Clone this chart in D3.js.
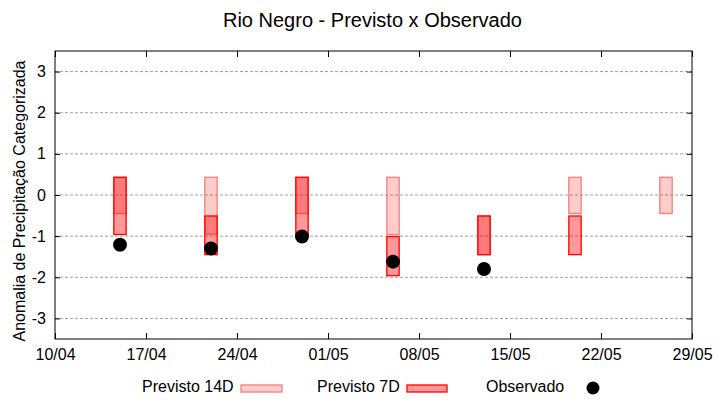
<!DOCTYPE html>
<html>
<head>
<meta charset="utf-8">
<script src="https://cdn.jsdelivr.net/npm/d3@7"></script>
<style>
  body { margin: 0; background: #fff; }
  text { font-family: "Liberation Sans", Arial, sans-serif; }
</style>
</head>
<body>
<div id="chart"></div>
<script>
// data
const tickLabels = ["10/04", "17/04", "24/04", "01/05", "08/05", "15/05", "22/05", "29/05"];
const yTicks = [-3, -2, -1, 0, 1, 2, 3];

const dates = ["15/04", "22/04", "29/04", "06/05", "13/05", "20/05", "27/05"];
const prev14Lo = [-0.45, -0.95, -0.45, -0.96, -1.45, -0.45, -0.45];
const prev14Hi = [0.43, 0.43, 0.43, 0.43, -0.51, 0.43, 0.43];
const prev7Lo = [-0.96, -1.45, -0.96, -1.96, -1.45, -1.45, null];
const prev7Hi = [0.43, -0.51, 0.43, -1.01, -0.51, -0.51, null];
const observado = [-1.21, -1.3, -1.01, -1.62, -1.8, null, null];

const parseDate = s => d3.timeParse("%d/%m/%Y")(s + "/2023");

const width = 720, height = 400;
const margin = {top: 51, right: 28, bottom: 61, left: 55};

const svg = d3.select("#chart").append("svg")
    .attr("width", width)
    .attr("height", height);

const x = d3.scaleTime()
    .domain([parseDate("10/04"), parseDate("29/05")])
    .range([margin.left, width - margin.right]);

const y = d3.scaleLinear()
    .domain([-3.5, 3.5])
    .range([height - margin.bottom, margin.top]);

// grid
svg.append("g")
    .selectAll("line")
    .data(yTicks)
    .enter()
    .append("line")
    .attr("x1", margin.left)
    .attr("x2", width - margin.right)
    .attr("y1", d => y(d))
    .attr("y2", d => y(d))
    .attr("stroke", "#a0a0a0")
    .attr("stroke-width", 1)
    .attr("stroke-dasharray", "3,2");

// bars
const dayMs = 24 * 3600 * 1000;
const boxW = x(new Date(parseDate("10/04").getTime() + 0.95 * dayMs)) - x(parseDate("10/04"));

const rows14 = dates.map((d, i) => ({date: parseDate(d), lo: prev14Lo[i], hi: prev14Hi[i]}));
const rows7 = dates.map((d, i) => ({date: parseDate(d), lo: prev7Lo[i], hi: prev7Hi[i]}))
    .filter(d => d.lo != null);
const rowsObs = dates.map((d, i) => ({date: parseDate(d), v: observado[i]}))
    .filter(d => d.v != null);

svg.append("g")
    .selectAll("rect")
    .data(rows14)
    .enter()
    .append("rect")
    .attr("x", d => x(d.date) - boxW / 2)
    .attr("width", boxW)
    .attr("y", d => y(d.hi))
    .attr("height", d => y(d.lo) - y(d.hi))
    .attr("fill", "rgba(255,0,0,0.2)")
    .attr("stroke", "#f08078")
    .attr("stroke-width", 1.3);

svg.append("g")
    .selectAll("rect")
    .data(rows7)
    .enter()
    .append("rect")
    .attr("x", d => x(d.date) - boxW / 2)
    .attr("width", boxW)
    .attr("y", d => y(d.hi))
    .attr("height", d => y(d.lo) - y(d.hi))
    .attr("fill", "rgba(255,0,0,0.4)")
    .attr("stroke", "#ff0000")
    .attr("stroke-width", 1.3);

svg.append("g")
    .selectAll("circle")
    .data(rowsObs)
    .enter()
    .append("circle")
    .attr("cx", d => x(d.date))
    .attr("cy", d => y(d.v))
    .attr("r", 7)
    .attr("fill", "#000");

// axes
const xTickDates = tickLabels.map(parseDate);

const xBottom = svg.append("g")
    .attr("transform", `translate(0,${height - margin.bottom})`)
    .call(d3.axisBottom(x).tickValues(xTickDates).tickFormat(d3.timeFormat("%d/%m"))
        .tickSizeInner(-6).tickSizeOuter(0).tickPadding(10));
const xTop = svg.append("g")
    .attr("transform", `translate(0,${margin.top})`)
    .call(d3.axisTop(x).tickValues(xTickDates).tickFormat("")
        .tickSizeInner(-6).tickSizeOuter(0));
const yLeft = svg.append("g")
    .attr("transform", `translate(${margin.left},0)`)
    .call(d3.axisLeft(y).tickValues(yTicks).tickFormat(d => String(d))
        .tickSizeInner(-5).tickSizeOuter(0).tickPadding(9));
const yRight = svg.append("g")
    .attr("transform", `translate(${width - margin.right},0)`)
    .call(d3.axisRight(y).tickValues(yTicks).tickFormat("").tickSizeInner(-5).tickSizeOuter(0));

[xBottom, xTop, yLeft, yRight].forEach(g => {
    g.select(".domain").remove();
    g.selectAll("line").attr("stroke", "#000");
    g.selectAll("text").attr("font-size", 16).attr("fill", "#000")
        .attr("font-family", "'Liberation Sans', Arial, sans-serif");
});

svg.append("rect")
    .attr("x", margin.left)
    .attr("y", margin.top)
    .attr("width", width - margin.left - margin.right)
    .attr("height", height - margin.top - margin.bottom)
    .attr("fill", "none")
    .attr("stroke", "#000")
    .attr("stroke-width", 1);

// title + y label
svg.append("text")
    .attr("x", 372.5)
    .attr("y", 27)
    .attr("text-anchor", "middle")
    .attr("font-size", 20)
    .text("Rio Negro - Previsto x Observado");

svg.append("text")
    .attr("transform", "translate(25,201) rotate(-90)")
    .attr("text-anchor", "middle")
    .attr("font-size", 16)
    .text("Anomalia de Precipitação Categorizada");

// legend
const legend = svg.append("g");
legend.append("text").attr("x", 142).attr("y", 392).attr("font-size", 16).text("Previsto 14D");
legend.append("rect").attr("x", 241).attr("y", 385).attr("width", 41).attr("height", 7)
    .attr("fill", "rgba(255,0,0,0.2)").attr("stroke", "#f08078").attr("stroke-width", 1.3);
legend.append("text").attr("x", 317).attr("y", 392).attr("font-size", 16).text("Previsto 7D");
legend.append("rect").attr("x", 407).attr("y", 385).attr("width", 40).attr("height", 7)
    .attr("fill", "rgba(255,0,0,0.4)").attr("stroke", "#ff0000").attr("stroke-width", 1.3);
legend.append("text").attr("x", 486).attr("y", 392).attr("font-size", 16).text("Observado");
legend.append("circle").attr("cx", 593).attr("cy", 388).attr("r", 6.5).attr("fill", "#000");
</script>
</body>
</html>
